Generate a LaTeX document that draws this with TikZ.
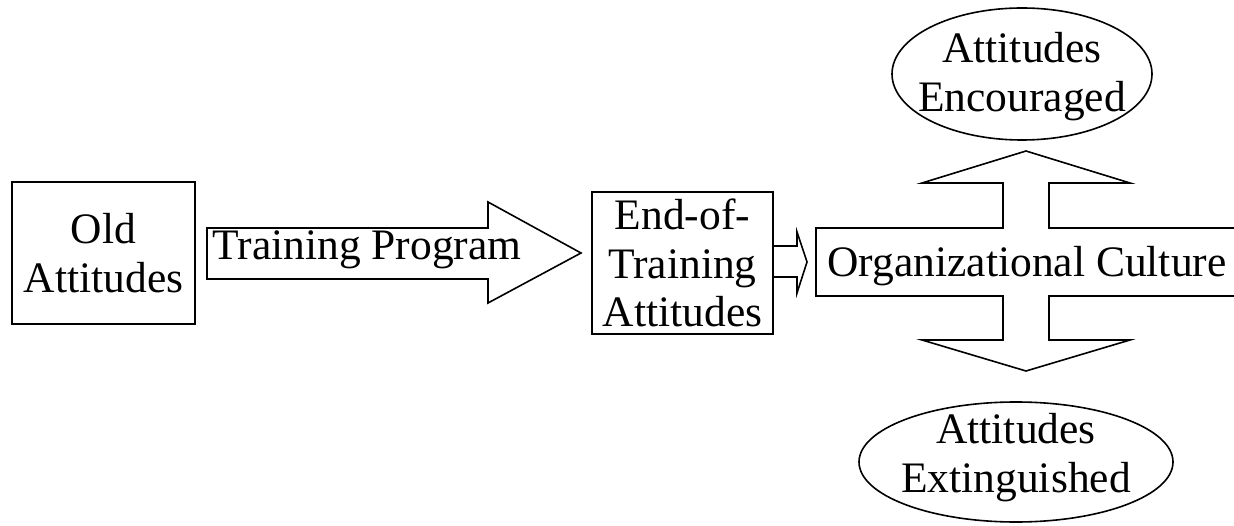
\documentclass[tikz,border=0pt]{standalone}
\usepackage{fontspec}
\setmainfont{Liberation Serif}
\usetikzlibrary{shapes.geometric}
\begin{document}
\begin{tikzpicture}[x=1pt,y=-1pt,line width=1.6pt,line join=miter,
  txt/.style={font=\fontsize{43.5}{48.5}\selectfont,align=center,inner sep=0pt},
  boxnode/.style={draw,rectangle,inner sep=0pt},
  ell/.style={draw,ellipse,inner sep=0pt},
  blockarrow/.style={draw,line join=miter}]
\useasboundingbox (0,0) rectangle (1234,526);
% boxes
\node[boxnode,minimum width=183pt,minimum height=142pt] (old) at (103.5,253) {};
\node[txt] (oldt) at (old.center) {Old\\Attitudes};
\node[boxnode,minimum width=181pt,minimum height=142pt] (end) at (682.5,263) {};
\node[txt] (endt) at (end.center) {End-of-\\Training\\Attitudes};
% training program arrow
\coordinate (tpA) at (207,228);
\draw[blockarrow] (tpA) -- (488,228) -- (488,202) -- (581,253) -- (488,303) -- (488,279) -- (207,279) -- cycle;
\node[txt,anchor=base] (tp) at (367,260) {Training Program};
% small arrow from end box
\draw[blockarrow] (end.east |- 0,246) -- (797,246) -- (797,232) -- (807,262) -- (797,293) -- (797,277) -- (end.east |- 0,277);
% organizational culture cross
\draw[blockarrow] (816,228) -- (1003,228) -- (1003,183) -- (922,183) -- (1026,151) -- (1130,183) -- (1049,183) -- (1049,228) -- (1240,228)
  -- (1240,296) -- (1049,296) -- (1049,340) -- (1130,340) -- (1026,371) -- (922,340) -- (1003,340) -- (1003,296) -- (816,296) -- cycle;
\node[txt,anchor=base] (org) at (1027,277) {Organizational Culture};
% ellipses
\node[ell,minimum width=260pt,minimum height=132pt] (enc) at (1022,74) {};
\node[txt] (enct) at (1022,76.5) {Attitudes\\Encouraged};
\node[ell,minimum width=314pt,minimum height=120pt] (ext) at (1016,462) {};
\node[txt] (extt) at (1016,457.5) {Attitudes\\Extinguished};
\end{tikzpicture}
\end{document}
